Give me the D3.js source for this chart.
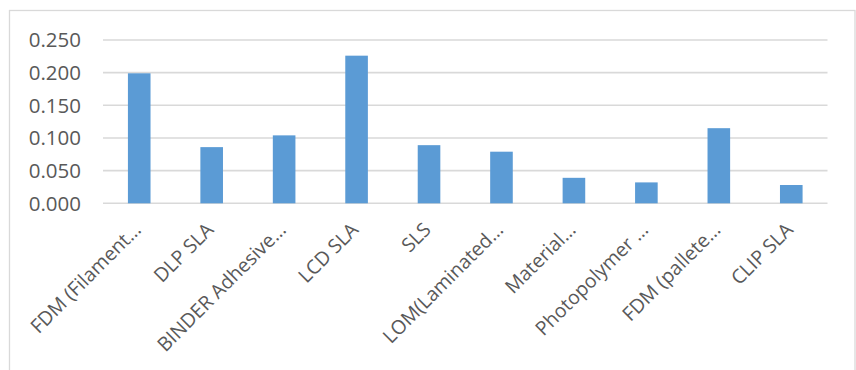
<!DOCTYPE html>
<html lang="en">
<head>
    <meta charset="UTF-8" />
    <title>Bar chart</title>
    <script src="https://d3js.org/d3.v7.min.js"></script>
    <style>
        body { margin: 0; background: #fff; }
        text {
            font-family: "Open Sans", sans-serif;
            font-size: 19.5px;
            fill: #595959;
        }
    </style>
</head>
<body>
    <script>
        // categories (labels shown truncated as in the original)
        const categories = ["FDM (Filament…", "DLP SLA", "BINDER Adhesive…", "LCD SLA", "SLS",
            "LOM(Laminated…", "Material…", "Photopolymer …", "FDM (pallete…", "CLIP SLA"];
        const values = [0.199, 0.086, 0.104, 0.226, 0.089, 0.079, 0.039, 0.032, 0.115, 0.028];
        const yTicks = [0, 0.05, 0.10, 0.15, 0.20, 0.25];

        const width = 856;
        const height = 370;

        const svg = d3.select("body")
            .append("svg")
            .attr("width", width)
            .attr("height", height);

        // chart area border
        svg.append("rect")
            .attr("x", 9.5)
            .attr("y", 10.5)
            .attr("width", 845.5)
            .attr("height", 380)
            .attr("fill", "none")
            .attr("stroke", "#d9d9d9")
            .attr("stroke-width", 1.3);

        const x = d3.scaleBand()
            .domain(categories)
            .range([103, 827.5])
            .paddingInner(0.688)
            .paddingOuter(0.344);

        const y = d3.scaleLinear()
            .domain([0, 0.25])
            .range([203.3, 40]);

        // gridlines
        svg.append("g")
            .selectAll("line")
            .data(yTicks)
            .enter()
            .append("line")
            .attr("x1", 103)
            .attr("x2", 827.5)
            .attr("y1", d => y(d))
            .attr("y2", d => y(d))
            .attr("stroke", "#d9d9d9")
            .attr("stroke-width", 1.6);

        // y axis labels
        svg.append("g")
            .selectAll("text")
            .data(yTicks)
            .enter()
            .append("text")
            .attr("x", 81)
            .attr("y", d => y(d))
            .attr("dy", "0.36em")
            .attr("text-anchor", "end")
            .style("font-size", "20.5px")
            .text(d => d3.format(".3f")(d));

        // bars
        svg.append("g")
            .selectAll("rect")
            .data(values)
            .enter()
            .append("rect")
            .attr("x", (d, i) => x(categories[i]))
            .attr("width", x.bandwidth())
            .attr("y", d => y(d))
            .attr("height", d => y(0) - y(d))
            .attr("fill", "#5b9bd5");

        // x labels rotated
        svg.append("g")
            .selectAll("text")
            .data(categories)
            .enter()
            .append("text")
            .attr("text-anchor", "end")
            .attr("transform", d => `translate(${x(d) + x.bandwidth() / 2 + 3}, 231) rotate(-45)`)
            .text(d => d);
    </script>
</body>
</html>
